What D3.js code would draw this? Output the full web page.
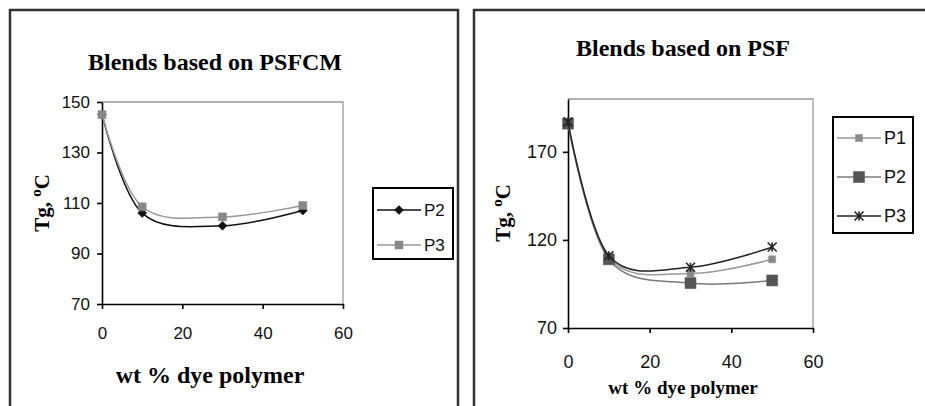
<!DOCTYPE html>
<html>
<head>
<meta charset="utf-8">
<script src="https://cdn.jsdelivr.net/npm/d3@7"></script>
<style>
  body { margin: 0; background: #fff; }
  svg { display: block; }
</style>
</head>
<body>
<div id="chart"></div>
<script>
// values (wt % dye polymer vs Tg)
var xPercent = [0, 10, 30, 50];
var xTicks = [0, 20, 40, 60];

var psfcmNames = ["P2", "P3"];
var psfcmP2 = [145, 106, 101, 107];
var psfcmP3 = [145, 108.5, 104.5, 109];
var psfcmTicks = [70, 90, 110, 130, 150];

var psfNames = ["P1", "P2", "P3"];
var psfP1 = [186, 110, 101, 109];
var psfP2 = [186, 109, 95.5, 97];
var psfP3 = [187, 111, 104.5, 116];
var psfTicks = [70, 120, 170];

var width = 925, height = 406;

var svg = d3.select("#chart").append("svg")
  .attr("width", width)
  .attr("height", height);

// panel frames
svg.append("rect")
  .attr("x", 10).attr("y", 10)
  .attr("width", 448).attr("height", 420)
  .style("fill", "none").style("stroke", "#333").style("stroke-width", 2.5);
svg.append("rect")
  .attr("x", 474).attr("y", 10)
  .attr("width", 480).attr("height", 420)
  .style("fill", "none").style("stroke", "#333").style("stroke-width", 2.5);

function markerPath(type, s) {
  var h = s / 2;
  if (type == "diamond") return "M0," + (-h) + "L" + h + ",0L0," + h + "L" + (-h) + ",0Z";
  if (type == "square") return "M" + (-h) + "," + (-h) + "h" + s + "v" + s + "h" + (-s) + "Z";
  // asterisk
  return "M" + (-h) + "," + (-h) + "L" + h + "," + h + "M" + (-h) + "," + h + "L" + h + "," + (-h) +
         "M0," + (-h) + "V" + h;
}

function drawMarker(g, m, x, y) {
  var p = g.append("path")
    .attr("transform", "translate(" + x + "," + y + ")")
    .attr("d", markerPath(m.type, m.size));
  if (m.type == "star") {
    p.style("fill", "none").style("stroke", m.color).style("stroke-width", 1.6);
  } else {
    p.style("fill", m.color).style("stroke", m.color).style("stroke-width", 0.5);
  }
}

function drawPanel(cfg) {
  var x = d3.scaleLinear().domain([0, 60]).range([cfg.left, cfg.right]);
  var y = d3.scaleLinear().domain(cfg.yDomain).range([cfg.bottom, cfg.top]);

  // plot area border (grey top and right)
  svg.append("path")
    .attr("d", "M" + cfg.left + "," + cfg.top + "H" + cfg.right + "V" + cfg.bottom)
    .style("fill", "none").style("stroke", "#999").style("stroke-width", 1.3);

  var xAxis = svg.append("g")
    .attr("transform", "translate(0," + cfg.bottom + ")")
    .call(d3.axisBottom(x).tickValues(xTicks).tickSize(5).tickSizeOuter(0).tickPadding(cfg.xPad));
  var yAxis = svg.append("g")
    .attr("transform", "translate(" + cfg.left + ",0)")
    .call(d3.axisLeft(y).tickValues(cfg.yTicks).tickSize(5).tickSizeOuter(0).tickPadding(cfg.yPad));

  [xAxis, yAxis].forEach(function(a) {
    a.selectAll("path, line").style("stroke", "#000").style("stroke-width", 1.6);
    a.selectAll("text")
      .style("font-family", "'Liberation Sans', Arial, sans-serif")
      .style("font-size", cfg.tickFont + "px")
      .style("fill", "#111");
  });

  var line = d3.line()
    .x(function(d) { return x(d[0]); })
    .y(function(d) { return y(d[1]); })
    .curve(d3.curveCardinal.tension(0));

  cfg.series.forEach(function(s) {
    var pts = xPercent.map(function(v, i) { return [v, s.values[i]]; });
    svg.append("path")
      .datum(pts)
      .attr("d", line)
      .style("fill", "none")
      .style("stroke", s.line)
      .style("stroke-width", 1.5);
    var g = svg.append("g");
    pts.forEach(function(p) { drawMarker(g, s.marker, x(p[0]), y(p[1])); });
  });

  // titles
  svg.append("text")
    .attr("x", cfg.titleX).attr("y", cfg.titleY)
    .attr("text-anchor", "middle").attr("dominant-baseline", "central")
    .style("font-family", "'Liberation Serif', 'Times New Roman', serif")
    .style("font-weight", "bold")
    .style("font-size", cfg.titleFont + "px")
    .text(cfg.title);

  svg.append("text")
    .attr("x", cfg.xTitleX).attr("y", cfg.xTitleY)
    .attr("text-anchor", "middle").attr("dominant-baseline", "central")
    .style("font-family", "'Liberation Serif', 'Times New Roman', serif")
    .style("font-weight", "bold")
    .style("font-size", cfg.xTitleFont + "px")
    .text("wt % dye polymer");

  var yt = svg.append("text")
    .attr("transform", "translate(" + cfg.yTitleX + "," + cfg.yTitleY + ") rotate(-90)")
    .attr("text-anchor", "middle").attr("dominant-baseline", "central")
    .style("font-family", "'Liberation Serif', 'Times New Roman', serif")
    .style("font-weight", "bold")
    .style("font-size", "21px");
  yt.append("tspan").text("Tg, ");
  yt.append("tspan").attr("baseline-shift", "40%").style("font-size", "15px").text("o");
  yt.append("tspan").text("C");

  // legend
  var lg = cfg.legend;
  svg.append("rect")
    .attr("x", lg.x).attr("y", lg.y)
    .attr("width", lg.w).attr("height", lg.h)
    .style("fill", "#fff").style("stroke", "#000").style("stroke-width", 2);
  cfg.series.forEach(function(s, i) {
    var ly = lg.firstY + i * lg.step;
    svg.append("line")
      .attr("x1", lg.x + 4).attr("x2", lg.x + 48)
      .attr("y1", ly).attr("y2", ly)
      .style("stroke", s.line).style("stroke-width", 1.5);
    drawMarker(svg.append("g"), s.marker, lg.x + 26, ly);
    svg.append("text")
      .attr("x", lg.x + 51).attr("y", ly)
      .attr("dominant-baseline", "central")
      .style("font-family", "'Liberation Sans', Arial, sans-serif")
      .style("font-size", lg.font + "px")
      .style("fill", "#111")
      .text(s.name);
  });
}

drawPanel({
  left: 102, right: 343, top: 102, bottom: 304,
  yDomain: [70, 150], yTicks: psfcmTicks,
  xPad: 18, yPad: 7, tickFont: 17,
  title: "Blends based on PSFCM", titleX: 215, titleY: 62, titleFont: 24,
  xTitleX: 210, xTitleY: 375, xTitleFont: 24,
  yTitleX: 42, yTitleY: 203,
  series: [
    {name: psfcmNames[0], values: psfcmP2, line: "#111", marker: {type: "diamond", size: 9, color: "#111"}},
    {name: psfcmNames[1], values: psfcmP3, line: "#999", marker: {type: "square", size: 8, color: "#888"}}
  ],
  legend: {x: 373, y: 188, w: 80, h: 71, firstY: 210, step: 35, font: 17}
});

drawPanel({
  left: 568, right: 813, top: 99, bottom: 328,
  yDomain: [70, 200], yTicks: psfTicks,
  xPad: 22, yPad: 6, tickFont: 18,
  title: "Blends based on PSF", titleX: 683, titleY: 48, titleFont: 24,
  xTitleX: 683, xTitleY: 387, xTitleFont: 19,
  yTitleX: 503, yTitleY: 213,
  series: [
    {name: psfNames[0], values: psfP1, line: "#9a9a9a", marker: {type: "square", size: 7, color: "#8a8a8a"}},
    {name: psfNames[1], values: psfP2, line: "#7a7a7a", marker: {type: "square", size: 11, color: "#555"}},
    {name: psfNames[2], values: psfP3, line: "#222", marker: {type: "star", size: 9, color: "#222"}}
  ],
  legend: {x: 833, y: 117, w: 80, h: 116, firstY: 138, step: 39, font: 18}
});
</script>
</body>
</html>
